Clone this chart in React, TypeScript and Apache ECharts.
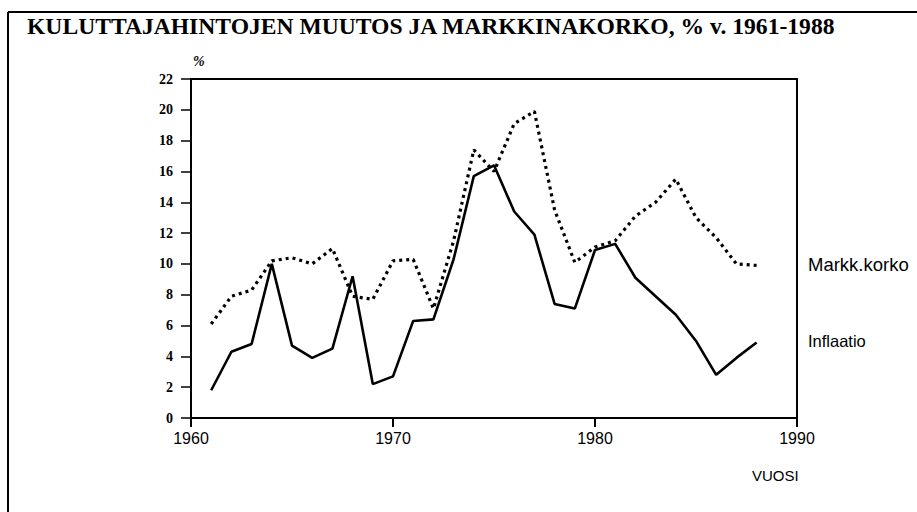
import React, { useEffect, useRef } from "react";
import * as echarts from "echarts";

const titleText = "KULUTTAJAHINTOJEN MUUTOS JA MARKKINAKORKO, % v. 1961-1988";
const years = [
  1961, 1962, 1963, 1964, 1965, 1966, 1967, 1968, 1969, 1970,
  1971, 1972, 1973, 1974, 1975, 1976, 1977, 1978, 1979, 1980,
  1981, 1982, 1983, 1984, 1985, 1986, 1987, 1988,
];
const inflaatio = [
  1.8, 4.3, 4.8, 10.0, 4.7, 3.9, 4.5, 9.2, 2.2, 2.7,
  6.3, 6.4, 10.3, 15.7, 16.4, 13.4, 11.9, 7.4, 7.1, 10.9,
  11.3, 9.1, 7.9, 6.7, 5.0, 2.8, 3.9, 4.9,
];
const markkKorko = [
  6.1, 7.9, 8.3, 10.2, 10.4, 10.0, 11.0, 7.9, 7.7, 10.2,
  10.3, 7.1, 11.5, 17.4, 16.0, 19.1, 19.9, 13.5, 10.1, 11.1,
  11.5, 13.1, 14.0, 15.5, 13.0, 11.7, 10.0, 9.9,
];
const xTicks = [1960, 1970, 1980, 1990];
const seriesNames = ["Inflaatio", "Markk.korko"];
const xName = "VUOSI";
const yName = "%";

export default function App() {
  const ref = useRef<HTMLDivElement>(null);
  useEffect(() => {
    document.body.style.margin = "0";
    const chart = echarts.init(ref.current!, null, { renderer: "svg" });
    const toPairs = (vals: number[]) => years.map((y, i) => [y, vals[i]]);
    chart.setOption({
      animation: false,
      backgroundColor: "#ffffff",
      grid: {
        left: 191,
        right: 120,
        top: 79,
        bottom: 94,
        show: true,
        borderColor: "#000",
        borderWidth: 2,
        containLabel: false,
      },
      xAxis: {
        type: "value",
        min: xTicks[0],
        max: xTicks[xTicks.length - 1],
        interval: 10,
        axisLine: { show: true, lineStyle: { color: "#000", width: 2 } },
        axisTick: { show: true, length: 9, lineStyle: { color: "#000", width: 2 } },
        splitLine: { show: false },
        axisLabel: {
          color: "#000",
          fontFamily: "Liberation Sans, Arial, sans-serif",
          fontSize: 16,
          margin: 12,
          formatter: (v: number) => String(v),
        },
      },
      yAxis: {
        type: "value",
        min: 0,
        max: 22,
        interval: 2,
        axisLine: { show: true, lineStyle: { color: "#000", width: 2 } },
        axisTick: { show: true, length: 10, lineStyle: { color: "#000", width: 1.5 } },
        splitLine: { show: false },
        axisLabel: {
          color: "#000",
          fontFamily: "Liberation Serif, Times New Roman, serif",
          fontWeight: "bold",
          fontSize: 14,
          margin: 18,
        },
      },
      series: [
        {
          name: seriesNames[0],
          type: "line",
          data: toPairs(inflaatio),
          symbol: "none",
          lineStyle: { color: "#000", width: 2.6, type: "solid" },
        },
        {
          name: seriesNames[1],
          type: "line",
          data: toPairs(markkKorko),
          symbol: "none",
          lineStyle: { color: "#000", width: 3.2, type: [3, 4] },
        },
      ],
      graphic: [
        {
          type: "line",
          shape: { x1: 8, y1: 12, x2: 930, y2: 12 },
          style: { stroke: "#000", lineWidth: 2 },
        },
        {
          type: "line",
          shape: { x1: 8, y1: 12, x2: 8, y2: 520 },
          style: { stroke: "#000", lineWidth: 2 },
        },
        {
          type: "text",
          x: 27,
          y: 14,
          style: {
            text: titleText,
            fill: "#000",
            font: "bold 23.6px 'Liberation Serif', 'Times New Roman', serif",
          },
        },
        {
          type: "text",
          x: 193,
          y: 54,
          style: {
            text: yName,
            fill: "#000",
            font: "italic bold 14px 'Liberation Serif', serif",
          },
        },
        {
          type: "text",
          x: 808,
          y: 255,
          style: {
            text: seriesNames[1],
            fill: "#000",
            font: "18.5px 'Liberation Sans', Arial, sans-serif",
          },
        },
        {
          type: "text",
          x: 808,
          y: 332,
          style: {
            text: seriesNames[0],
            fill: "#000",
            font: "16.5px 'Liberation Sans', Arial, sans-serif",
          },
        },
        {
          type: "text",
          x: 752,
          y: 468,
          style: {
            text: xName,
            fill: "#000",
            font: "15px 'Liberation Sans', Arial, sans-serif",
          },
        },
      ],
    });
    return () => chart.dispose();
  }, []);
  return <div ref={ref} style={{ width: 917, height: 512 }} />;
}
